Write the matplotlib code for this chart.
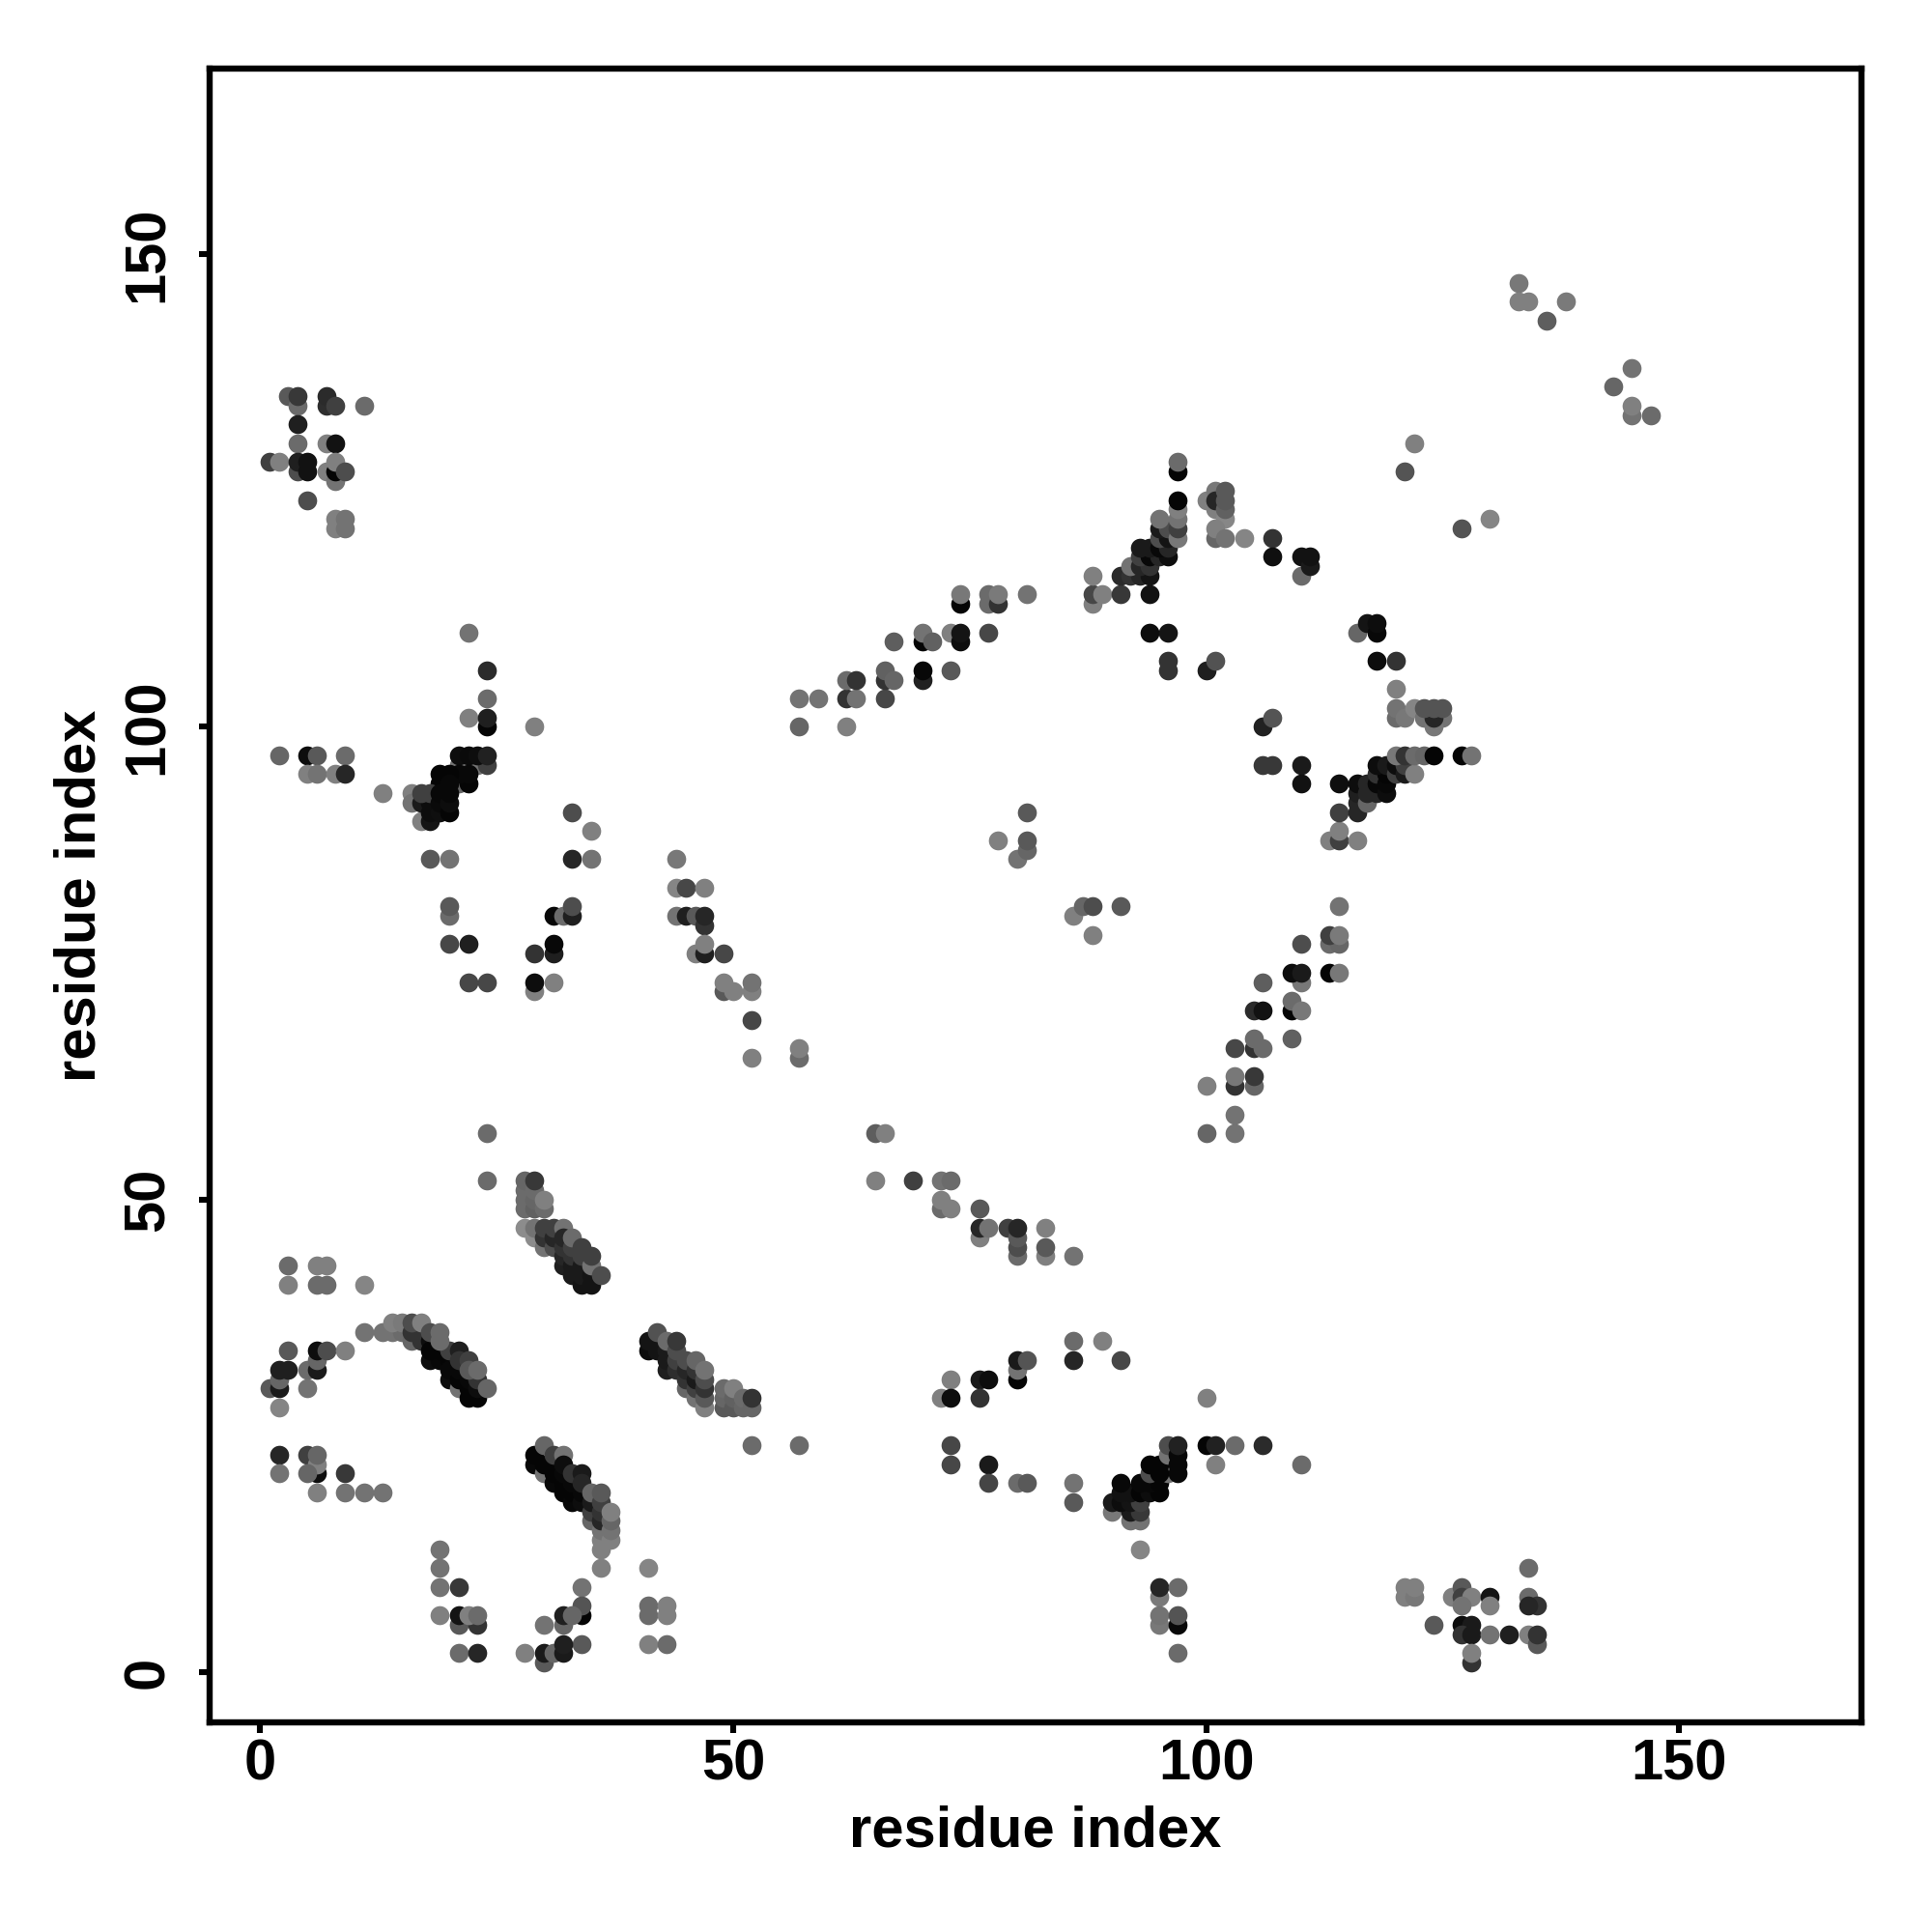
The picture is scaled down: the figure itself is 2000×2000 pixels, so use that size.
import matplotlib
matplotlib.use('Agg')
import matplotlib.pyplot as plt

# contacts: (residue i, residue j, grey level)
low_left = [(3,43,.42),(6,43,.5),(7,43,.5),(3,41,.5),(6,41,.42),(7,41,.42),(11,41,.52),
    (1,30,.35),(2,30,.1),(2,31,.4),(2,32,.12),(3,32,.12),(2,28,.52),(5,30,.45),(5,32,.42),(6,32,.1),(6,33,.4),
    (6,34,.05),(7,34,.3),(9,34,.5),(3,34,.35),
    (2,23,.15),(5,23,.25),(6,21,.05),(6,22,.5),(6,23,.4),(5,21,.4),(2,21,.45),(9,21,.22),
    (6,19,.5),(9,19,.45),(11,19,.45),(13,19,.45)]
arc_upper = [(11,36,.45),(13,36,.45),(14,36,.45),(15,36,.42),(16,35,.4),(14,37,.5),(15,37,.48),(16,36,.2),(17,35,.2),
    (17,36,.2),(16,37,.3),(17,37,.5),(18,35,.05),(18,33,.05),(19,33,.03),(18,34,.02),(19,34,.02),(20,33,.02),(20,34,.25),
    (18,36,.3),(19,35,.42),(19,36,.42),(21,34,.12),(20,31,.05),(20,32,.03),(21,30,.45),(21,31,.02),(21,32,.03),(21,33,.2),
    (22,33,.25),(22,29,.02),(23,29,.02),(22,30,.02),(22,31,.03),(23,30,.05),(23,31,.2),(22,32,.35),(23,32,.42),(24,30,.4)]
arc_lower = [(29,22,.03),(30,21,.45),(29,23,.02),(30,24,.4),(30,22,.02),(31,20,.03),(31,21,.02),(31,22,.02),(31,23,.25),
    (32,23,.45),(32,19,.02),(32,20,.02),(32,21,.03),(32,22,.05),(33,18,.03),(33,19,.02),(33,20,.03),(33,21,.2),(34,21,.1),
    (34,18,.05),(34,19,.03),(34,20,.15),(35,16,.4),(35,17,.25),(35,18,.1),(35,19,.4),(36,14,.5),(36,13,.5),(36,15,.45),(36,16,.15),
    (36,17,.2),(36,18,.25),(36,19,.35),(37,14,.5),(37,15,.45),(37,16,.4),(37,17,.5),(36,11,.5)]
low_mid = [(19,13,.45),(19,11,.45),(19,9,.45),(21,9,.22),(19,6,.5),(21,5,.35),(21,6,.08),(23,5,.2),(22,6,.5),(23,6,.42),
    (21,2,.42),(23,2,.15),(34,9,.45),(34,6,.02),(34,7,.33),(32,5,.4),(32,6,.12),(33,6,.4),(30,5,.45),(34,3,.35),
    (28,2,.5),(30,1,.35),(30,2,.1),(31,2,.4),(32,2,.1),(32,3,.12),
    (41,11,.52),(41,6,.42),(41,7,.42),(43,6,.5),(43,7,.5),(41,3,.5),(43,3,.42)]
diag_47 = [(24,52,.42),(28,49,.42),(28,50,.42),(28,51,.42),(28,52,.4),(29,49,.38),(29,50,.4),(29,51,.42),(29,52,.22),(30,49,.42),(30,50,.5),
    (29,46,.55),(30,45,.45),(28,47,.55),(29,47,.45),(30,46,.2),(30,47,.25),(31,45,.3),(31,46,.15),(31,47,.25),(32,47,.45),
    (32,43,.12),(32,44,.15),(32,45,.2),(32,46,.15),(33,42,.1),(33,43,.1),(33,44,.2),(33,45,.25),(33,46,.42),
    (34,41,.08),(34,42,.1),(34,43,.1),(34,44,.25),(34,45,.25),(35,41,.08),(35,42,.08),(35,43,.45),(35,44,.25),(36,42,.3)]
diag_35 = [(41,34,.05),(41,35,.08),(42,34,.08),(42,36,.32),(43,32,.12),(43,33,.1),(43,34,.1),(43,35,.42),(44,32,.18),(44,33,.25),(44,34,.3),(44,35,.22),
    (45,30,.4),(45,31,.2),(45,32,.15),(45,33,.3),(46,29,.45),(46,30,.25),(46,31,.1),(46,32,.2),(46,33,.4),
    (47,28,.5),(47,29,.35),(47,30,.2),(47,31,.3),(47,32,.45),
    (49,28,.35),(49,29,.4),(49,30,.42),(50,28,.35),(50,29,.38),(50,30,.5),(51,28,.4),(51,29,.42),(52,28,.4),(52,29,.2),
    (52,24,.42),(57,24,.42)]
top_left = [(3,135,.35),(4,134,.42),(4,135,.22),(7,134,.18),(7,135,.17),(8,134,.25),(11,134,.42),(4,132,.12),(4,130,.42),
    (7,130,.5),(8,130,.07),(1,128,.25),(2,128,.5),(4,127,.3),(4,128,.12),(5,127,.07),(5,128,.07),
    (7,127,.5),(8,126,.45),(8,127,.02),(8,128,.5),(9,127,.3),(5,124,.3),(8,121,.5),(8,122,.5),(9,121,.45),(9,122,.45)]
mid_left = [(22,110,.45),(24,106,.17),(24,103,.42),(22,101,.5),(24,100,.02),(24,101,.12),(29,100,.5),
    (2,97,.4),(5,97,.05),(6,97,.35),(9,97,.42),(5,95,.5),(6,95,.45),(8,95,.5),(9,95,.15),(13,93,.5),
    (21,96,.45),(23,96,.45),(24,96,.25),(21,97,.05),(22,97,.04),(23,97,.05),(24,97,.13),
    (21,94,.4),(22,94,.02),(21,95,.03),(22,95,.03),(19,95,.02),(20,95,.02),(19,94,.02),(20,94,.03),
    (16,93,.5),(16,92,.45),(17,90,.5),(18,90,.08),(17,92,.1),(18,91,.05),(18,92,.05),(17,93,.25),(18,93,.25),
    (19,91,.06),(19,92,.04),(19,93,.03),(20,91,.02),(20,92,.05),(20,93,.03)]
mid_col = [(33,91,.3),(35,89,.5),(18,86,.35),(20,86,.45),(33,86,.15),(35,86,.45),(20,80,.42),(20,81,.35),
    (20,77,.28),(22,77,.12),(22,73,.28),(24,73,.28),(31,80,.03),(32,80,.42),(33,80,.12),(33,81,.3),
    (31,76,.12),(31,77,.03),(29,76,.2),(29,72,.5),(29,73,.05),(31,73,.5),
    (44,86,.47),(44,83,.52),(45,83,.28),(47,83,.5),(44,80,.45),(45,80,.12),(46,80,.35),(47,79,.2),(47,80,.15),
    (46,76,.5),(47,76,.12),(47,77,.5),(49,76,.28),(49,72,.35),(49,73,.5),(50,72,.5),(52,72,.5),(52,73,.45),(52,69,.28),
    (52,65,.5),(57,65,.42),(57,66,.5)]
upper_diag = [(57,103,.45),(59,103,.45),(57,100,.4),(62,100,.5),(62,103,.2),(63,103,.45),(66,103,.28),(62,105,.42),(63,105,.2),
    (66,105,.2),(66,106,.38),(67,105,.4),(67,109,.37),(70,109,.02),(70,110,.45),(71,109,.38),(70,105,.13),(70,106,.03),(73,106,.35),
    (73,110,.5),(74,109,.05),(74,110,.08),(77,110,.28),(74,113,.02),(74,114,.47),(77,113,.42),(77,114,.42),(78,113,.2),(78,114,.48),(81,114,.45),
    (88,113,.5),(88,114,.28),(89,114,.5),(88,116,.5),(91,114,.22),(94,114,.07)]
knot_97 = [(91,116,.17),(92,116,.2),(93,116,.15),(94,116,.08),(92,117,.45),(93,117,.15),(94,117,.2),(93,118,.25),(94,118,.03),
    (95,118,.15),(96,118,.05),(93,119,.1),(94,119,.1),(95,119,.03),(96,119,.15),(95,120,.3),(96,120,.08),(95,121,.1),(96,121,.3),(95,122,.45),
    (97,120,.47),(97,121,.25),(97,122,.45),(97,123,.5),(97,124,.02),(97,127,.02),(97,128,.42),
    (94,110,.05),(96,110,.08),(96,106,.2),(96,107,.2),(100,106,.12),(101,107,.32),
    (100,124,.5),(101,125,.47),(101,123,.5),(101,124,.15),(102,122,.53),(102,123,.38),(102,124,.35),(102,125,.35),
    (101,120,.4),(101,121,.5),(102,120,.45),(104,120,.52),(107,120,.2),(107,118,.06),(110,116,.42),(110,118,.07),(111,117,.1),(111,118,.07),
    (121,127,.33),(122,130,.5),(127,121,.33),(130,122,.52)]
knot_118 = [(116,110,.4),(117,111,.08),(118,110,.03),(118,111,.05),(118,107,.05),(120,107,.2),(120,104,.5),(120,101,.42),(120,102,.45),(121,101,.47),
    (122,102,.52),(123,101,.45),(125,101,.45),(124,100,.47),(124,101,.15),(123,102,.33),(124,102,.33),(125,102,.33),
    (106,100,.13),(107,101,.33),(106,96,.22),(107,96,.22),(110,96,.1),(110,94,.07),(114,94,.06),
    (113,88,.5),(114,88,.25),(114,89,.5),(116,88,.5),(114,91,.25),(116,91,.15),(116,92,.15),(116,93,.12),(116,94,.05),
    (117,92,.4),(117,93,.15),(117,94,.15),(118,93,.15),(118,94,.03),(118,95,.2),(119,93,.05),(119,94,.03),(119,95,.02),
    (118,96,.05),(119,96,.1),(120,95,.25),(120,96,.05),(121,95,.1),(121,96,.25),(120,97,.47),(121,97,.2),(122,95,.5),(122,97,.42),(123,97,.4),(124,97,.02),
    (127,97,.02),(128,97,.45)]
right_diag = [(114,81,.45),(113,77,.42),(114,77,.4),(113,78,.25),(114,78,.48),(110,77,.3),(113,74,.02),(114,74,.47),(110,73,.47),(109,74,.05),(110,74,.1),
    (106,73,.37),(105,70,.17),(106,70,.07),(109,70,.02),(109,71,.42),(110,70,.47),(109,67,.38),(103,66,.28),(105,66,.2),(105,67,.42),(106,66,.42),
    (103,62,.2),(103,63,.47),(105,62,.4),(105,63,.22),(100,62,.5),(103,59,.45),(103,57,.45),(100,57,.4)]
scattered = [(133,147,.47),(133,145,.5),(134,145,.5),(138,145,.48),(136,143,.37),(143,136,.4),(145,138,.45),(145,133,.45),(145,134,.5),(147,133,.42),
    (78,88,.5),(80,86,.45),(81,87,.4),(81,88,.35),(81,91,.35),(86,80,.5),(87,81,.4),(88,81,.3),(91,81,.35),(88,78,.5),
    (24,57,.42),(65,57,.37),(66,57,.5),(65,52,.5),(69,52,.25),(72,52,.45),(73,52,.42),(72,49,.42),(72,50,.5),(73,49,.5),(76,49,.35),
    (76,46,.5),(76,47,.15),(77,47,.45),(79,47,.25),(80,44,.42),(80,45,.3),(80,46,.35),(80,47,.15),(83,44,.5),(83,45,.35),(83,47,.5),(86,44,.45)]
low_right = [(86,35,.42),(89,35,.5),(86,33,.15),(91,33,.28),(80,31,.02),(80,32,.45),(80,33,.1),(81,33,.33),(76,31,.1),(77,31,.05),(73,31,.5),
    (72,29,.5),(73,29,.05),(76,29,.2),(73,24,.28),(73,22,.28),(77,22,.1),(77,20,.27),(80,20,.42),(81,20,.35),(86,20,.45),(86,18,.35),
    (92,16,.45),(93,16,.45),(90,17,.47),(92,17,.1),(93,17,.22),(90,18,.1),(91,18,.05),(92,18,.08),(93,18,.25),
    (91,19,.07),(92,19,.07),(93,19,.02),(94,19,.05),(95,19,.02),(91,20,.03),(93,20,.03),(94,20,.03),(95,20,.02),
    (94,21,.3),(96,21,.45),(95,21,.02),(94,22,.02),(95,22,.02),(96,23,.45),(96,24,.3),(97,21,.03),(97,22,.03),(97,23,.03),(97,24,.13),
    (100,24,.02),(101,24,.13),(103,24,.42),(106,24,.17),(101,22,.5),(110,22,.42),(100,29,.5),(93,13,.52),
    (95,8,.48),(95,9,.15),(97,9,.42),(95,5,.47),(95,6,.45),(97,5,.03),(97,6,.33),(97,2,.42)]
corner = [(121,8,.5),(121,9,.5),(122,8,.47),(122,9,.5),(124,5,.35),(126,8,.5),(127,9,.35),(127,8,.25),(128,8,.5),(127,7,.45),(130,8,.08),(130,7,.5),
    (127,5,.05),(128,5,.1),(127,4,.2),(128,4,.1),(130,4,.45),(132,4,.12),(128,1,.2),(128,2,.5),(134,11,.42),(134,8,.42),(135,7,.2),(134,7,.15),
    (134,4,.5),(135,3,.35),(135,4,.2)]

ticks = [0, 50, 100, 150]
groups = [low_left, arc_upper, arc_lower, low_mid, diag_47, diag_35, top_left, mid_left, mid_col,
          upper_diag, knot_97, knot_118, right_diag, scattered, low_right, corner]

plt.rcParams['font.family'] = ['Liberation Sans', 'DejaVu Sans']
plt.rcParams['font.weight'] = 'bold'

fig = plt.figure(figsize=(10, 10), dpi=200)
ax = fig.add_axes([0.1084, 0.1084, 0.8553, 0.8559])

for group in groups:
    for x, y, g in group:
        ax.scatter(x, y, s=50, color=str(g), linewidths=0, clip_on=True)

ax.set_xlim(-5.34, 169.3)
ax.set_ylim(-5.34, 169.6)
ax.set_xticks(ticks)
ax.set_yticks(ticks)
ax.tick_params(axis='x', length=4, width=2.2, labelsize=21.5, pad=2)
ax.tick_params(axis='y', length=4, width=2.2, labelsize=21.5, pad=8.8)
for lab in ax.get_yticklabels():
    lab.set_rotation(90)
    lab.set_va('center')
for s in ax.spines.values():
    s.set_linewidth(2.3)
ax.set_xlabel('residue index', fontsize=21.5, fontweight='bold', labelpad=5)
ax.set_ylabel('residue index', fontsize=21.5, fontweight='bold', labelpad=5.6)

plt.savefig('out.png', dpi=200)
